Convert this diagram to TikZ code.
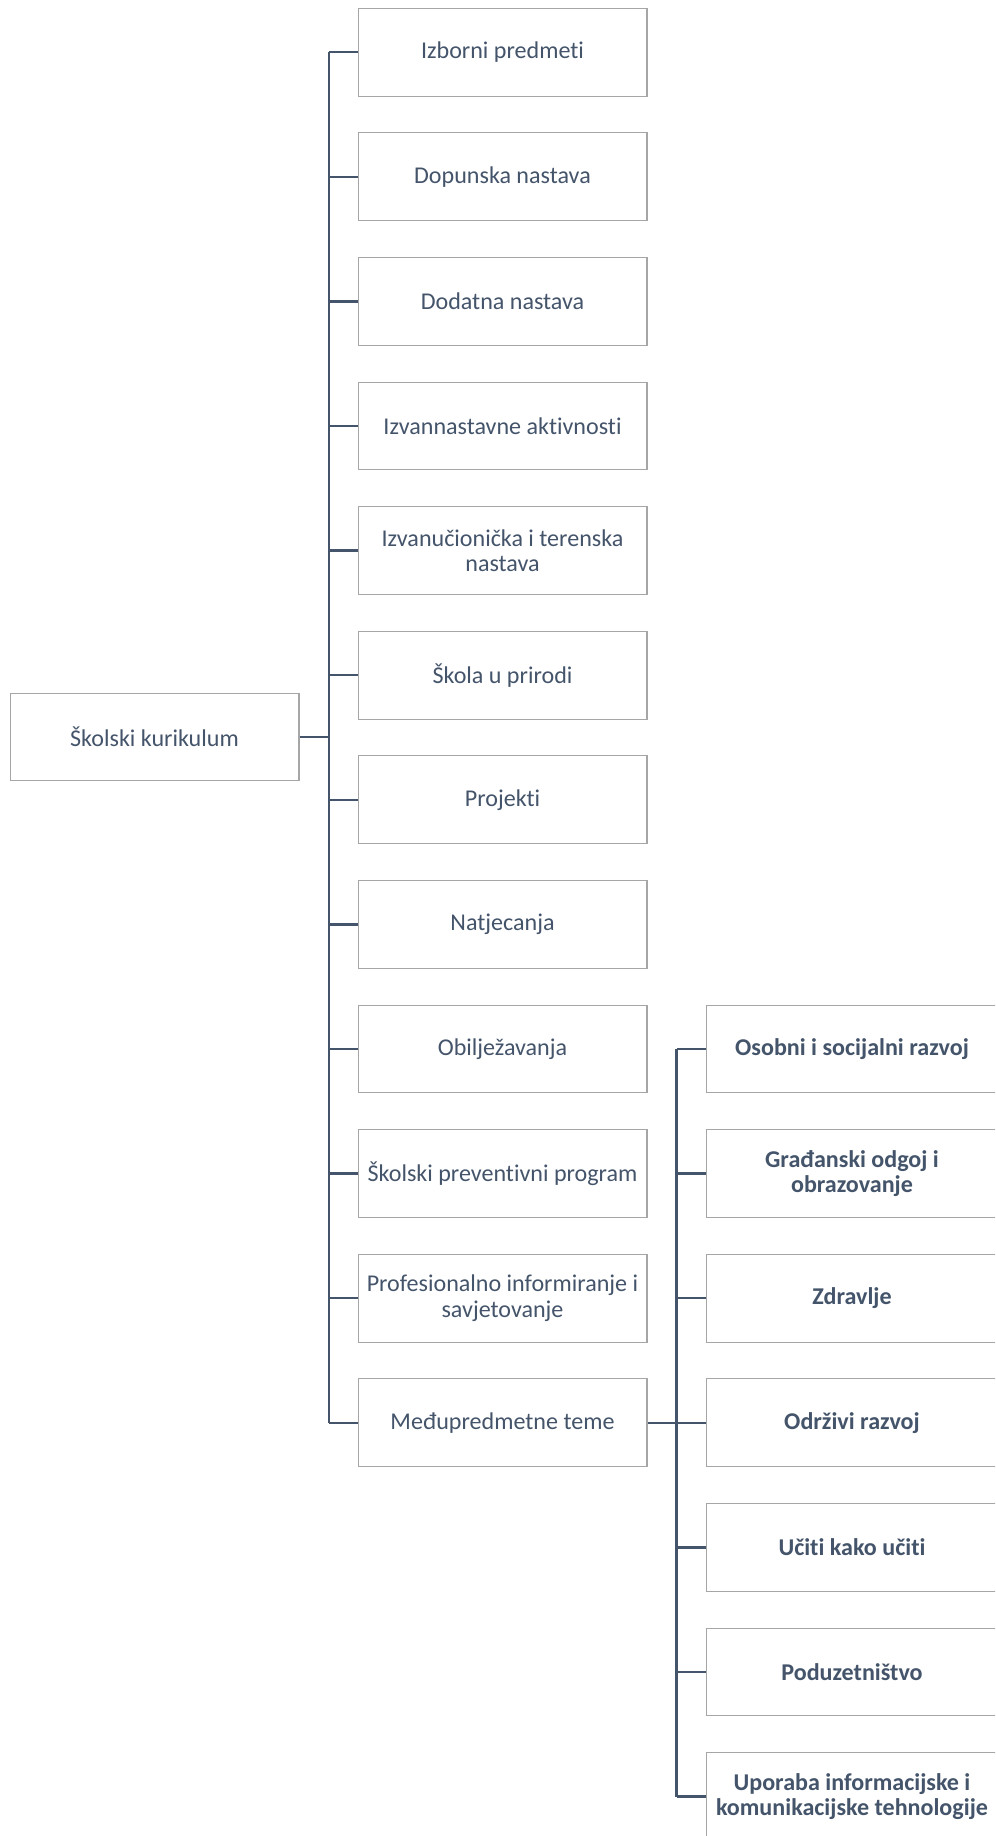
\documentclass[tikz,border=0pt]{standalone}
\usepackage{fontspec}
\setmainfont{Carlito}[Ligatures={TeX,NoCommon}]
\usepackage{xcolor}
\usepackage{tikz}
\usetikzlibrary{positioning,calc}

\definecolor{slate}{HTML}{44546A}
\definecolor{boxgray}{HTML}{A6A6A6}

\tikzset{
  topic/.style={draw=boxgray, line width=0.6pt, fill=white, text=slate,
    minimum width=5.78cm, minimum height=1.756cm, align=center,
    font=\fontsize{13.7}{14.6}\selectfont},
  theme/.style={topic, minimum width=5.84cm, font=\fontsize{13.7}{14.6}\selectfont\bfseries},
  link/.style={draw=slate, line width=1.3pt}
}

\begin{document}
\begin{tikzpicture}[x=0.02cm, y=0.02cm]
    \useasboundingbox (0,0) rectangle (995,-1836);
    \clip (0,0) rectangle (995,-1836);

    % Root
    \node[topic] (root) at (154.5,-737) {Školski kurikulum};

    % First level
    \node[topic] (izborni)  at (502.5,-52.2)   {Izborni predmeti};
    \node[topic] (dopunska) at (502.5,-176.8)  {Dopunska nastava};
    \node[topic] (dodatna)  at (502.5,-301.4)  {Dodatna nastava};
    \node[topic] (izvan)    at (502.5,-426)    {Izvannastavne aktivnosti};
    \node[topic] (terenska) at (502.5,-550.6)  {Izvanučionička i terenska\\nastava};
    \node[topic] (priroda)  at (502.5,-675.2)  {Škola u prirodi};
    \node[topic] (projekti) at (502.5,-799.8)  {Projekti};
    \node[topic] (natj)     at (502.5,-924.4)  {Natjecanja};
    \node[topic] (obilj)    at (502.5,-1049)   {Obilježavanja};
    \node[topic] (prev)     at (502.5,-1173.6) {Školski preventivni program};
    \node[topic] (prof)     at (502.5,-1298.2) {Profesionalno informiranje i\\savjetovanje};
    \node[topic] (medu)     at (502.5,-1422.8) {Međupredmetne teme};

    % Cross-curricular themes
    \node[theme] (osobni)   at (852,-1049)   {Osobni i socijalni razvoj};
    \node[theme] (gradj)    at (852,-1173.6) {Građanski odgoj i\\obrazovanje};
    \node[theme] (zdravlje) at (852,-1298.2) {Zdravlje};
    \node[theme] (odrzivi)  at (852,-1422.8) {Održivi razvoj};
    \node[theme] (uciti)    at (852,-1547.4) {Učiti kako učiti};
    \node[theme] (poduz)    at (852,-1672)   {Poduzetništvo};
    \node[theme] (ikt)      at (852,-1796.6) {Uporaba informacijske i\\komunikacijske tehnologije};

    % Trunks
    \coordinate (t1) at (329,-737);
    \coordinate (t2) at (676.6,-1422.8);
    \draw[link] (root.east) -- (t1);
    \draw[link] (t1 |- izborni.west) -- (t1 |- medu.west);
    \foreach \n in {izborni,dopunska,dodatna,izvan,terenska,priroda,projekti,natj,obilj,prev,prof,medu}
        \draw[link] (t1 |- \n.west) -- (\n.west);

    \draw[link] (medu.east) -- (t2);
    \draw[link] (t2 |- osobni.west) -- (t2 |- ikt.west);
    \foreach \n in {osobni,gradj,zdravlje,odrzivi,uciti,poduz,ikt}
        \draw[link] (t2 |- \n.west) -- (\n.west);
\end{tikzpicture}
\end{document}
